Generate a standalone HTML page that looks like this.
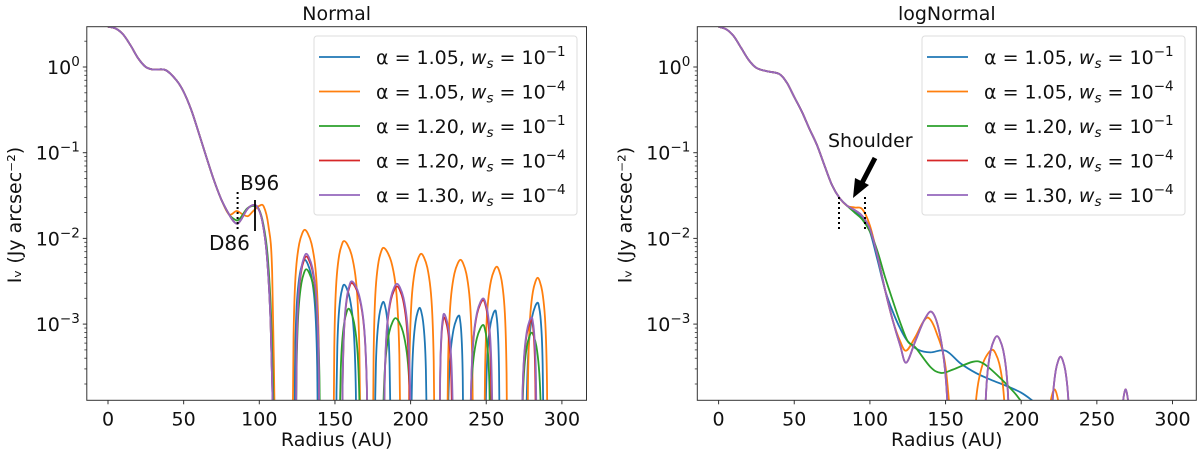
<!DOCTYPE html>
<html><head><meta charset="utf-8">
<style>
html,body{margin:0;padding:0;background:#fff;overflow:hidden;width:1200px;height:454px;}
svg{display:block;font-family:"DejaVu Sans","Liberation Sans",sans-serif;}
</style></head>
<body>
<svg id="fig" width="1200" height="454" viewBox="0 0 1200 454" xmlns="http://www.w3.org/2000/svg">
<defs>
<clipPath id="clipL"><rect x="86.8" y="26.7" width="499.7" height="373.6"/></clipPath>
<clipPath id="clipR"><rect x="697.3" y="26.7" width="499" height="373.6"/></clipPath>
</defs>
<g id="left"></g>
<g id="right"></g>
</svg>
<script>
const colors = ['#1f77b4','#ff7f0e','#2ca02c','#d62728','#9467bd'];
const seriesNames = ['a105-w1','a105-w4','a120-w1','a120-w4','a130-w4'];
const legendAlpha = ['1.05','1.05','1.20','1.20','1.30'];
const legendExp = ['−1','−4','−1','−4','−4'];
const xTicks = [0,50,100,150,200,250,300];
const yTickExp = [0,-1,-2,-3];

// ---- Normal panel data (radius AU, log10 intensity) ----
const sharedR = [0,5,10,15,20,25,30,38,45,50,55,60,65,70,75,80];
const sharedLog = [0.47,0.45,0.38,0.25,0.10,0.00,-0.03,-0.035,-0.15,-0.29,-0.5,-0.77,-1.05,-1.32,-1.55,-1.72];
const tailR_L = [
 [83,85.5,88,92,96,99,102,105,107.5,109.5],
 [85,89,92.5,96,100,103,106,108.5,110.5],
 [83,85.5,88,92,96.5,99.5,102.5,105.5,108,110],
 [83,85.5,88,92,96,99,102,105,107.5,109.5],
 [83,85.5,88,92,96,99,102,105,107.5,109.5]];
const tailLog_L = [
 [-1.80,-1.83,-1.78,-1.66,-1.61,-1.64,-1.8,-2.2,-3.0,-4.5],
 [-1.68,-1.72,-1.74,-1.68,-1.62,-1.63,-1.85,-2.4,-4.5],
 [-1.77,-1.79,-1.75,-1.65,-1.62,-1.65,-1.82,-2.2,-3.0,-4.5],
 [-1.80,-1.83,-1.78,-1.66,-1.61,-1.64,-1.8,-2.2,-3.0,-4.5],
 [-1.80,-1.83,-1.78,-1.66,-1.61,-1.64,-1.8,-2.2,-3.0,-4.5]];
const lobeStart_L = [
 [123,150.6,176,200,224,249,276],
 [122,149,175,198.6,224,248.5,277],
 [124,152.7,181,238.5,273],
 [124,154.5,182,219,239,273],
 [124,154.5,182,219,239,273]];
const lobePeakR_L = [
 [130,156,182,206,232,256,284],
 [130,156,182,207,233,257,284],
 [131,159,190,248,280],
 [131,161,191,222,248,280],
 [131,161,191,222,248,280]];
const lobeEnd_L = [
 [139,164.5,187,211,235,259,288],
 [140,167,193.5,216,241.5,264,290.7],
 [140.5,167,201,253,287],
 [140,172,200,228,254,283],
 [140,172,200.5,228.5,254.5,283.5]];
const lobePeakLog_L = [
 [-2.25,-2.54,-2.74,-2.81,-2.90,-2.84,-2.75],
 [-1.90,-2.03,-2.11,-2.18,-2.25,-2.33,-2.46],
 [-2.36,-2.82,-2.93,-3.01,-3.10],
 [-2.21,-2.52,-2.56,-2.92,-2.72,-2.95],
 [-2.18,-2.50,-2.53,-2.88,-2.70,-2.92]];

// ---- logNormal panel data ----
const sharedR_R = [0,5,10,15,20,25,32,40,45,50,55,60,65,70,75,80,85];
const sharedLog_R = [0.47,0.44,0.36,0.22,0.08,-0.01,-0.05,-0.08,-0.18,-0.35,-0.52,-0.72,-0.91,-1.15,-1.38,-1.53,-1.62];
const tailR_R = [
 [90,95,100,105,110,115,120,125,132,140,150,160,170,180,190,200,208,215],
 [90,95,100,105,110,115,120,124,130,135,139,144,150,155],
 [90,95,100,105,110,115,120,125,130,140,147,155,168,175,185,195,200,205],
 [90,95,100,105,110,115,120,124,130,136,141,146,150,153],
 [90,95,100,105,110,115,120,124,130,136,141,146,150,153]];
const tailLog_R = [
 [-1.68,-1.76,-1.92,-2.25,-2.6,-2.85,-3.05,-3.2,-3.3,-3.33,-3.31,-3.46,-3.57,-3.65,-3.72,-3.80,-3.9,-4.0],
 [-1.64,-1.66,-1.85,-2.2,-2.6,-2.95,-3.2,-3.31,-3.15,-2.98,-2.93,-3.1,-3.5,-4.5],
 [-1.70,-1.78,-1.92,-2.15,-2.45,-2.72,-2.98,-3.2,-3.27,-3.5,-3.57,-3.53,-3.44,-3.46,-3.61,-3.79,-3.9,-4.0],
 [-1.67,-1.74,-1.89,-2.2,-2.6,-2.95,-3.25,-3.45,-3.2,-2.95,-2.86,-3.1,-3.6,-4.5],
 [-1.67,-1.74,-1.89,-2.2,-2.6,-2.95,-3.25,-3.45,-3.2,-2.95,-2.86,-3.1,-3.6,-4.5]];
const lobeStart_R = [[],[167,216],[],[175,219,265],[175,219,265]];
const lobePeakR_R = [[],[181,222],[],[184,226,269],[184,226,269]];
const lobeEnd_R = [[],[191,228],[],[193,233,273],[193,233,273]];
const lobePeakLog_R = [[],[-3.30,-3.76],[],[-3.14,-3.38,-3.76],[-3.14,-3.38,-3.76]];

const NS='http://www.w3.org/2000/svg';
function mk(tag, attrs, parent){const e=document.createElementNS(NS,tag);for(const k in attrs)e.setAttribute(k,attrs[k]);if(parent)parent.appendChild(e);return e;}

function makeAxes(x0px, left, right){
  const top=26.7, bottom=400.3, pxAU=1.513, y0=67, pxDec=85.7;
  return {left,right,top,bottom,
    sx:r=>x0px+r*pxAU, sy:l=>y0-l*pxDec};
}
function crPath(pts){
  let d='M'+pts[0][0].toFixed(2)+','+pts[0][1].toFixed(2);
  for(let i=0;i<pts.length-1;i++){
    const p0=pts[i-1]||pts[i],p1=pts[i],p2=pts[i+1],p3=pts[i+2]||p2;
    const c1=[p1[0]+(p2[0]-p0[0])/6,p1[1]+(p2[1]-p0[1])/6];
    const c2=[p2[0]-(p3[0]-p1[0])/6,p2[1]-(p3[1]-p1[1])/6];
    d+='C'+c1[0].toFixed(2)+','+c1[1].toFixed(2)+' '+c2[0].toFixed(2)+','+c2[1].toFixed(2)+' '+p2[0].toFixed(2)+','+p2[1].toFixed(2);
  }
  return d;
}
// lobe rendering profile (fraction of half-width, drop in log10 from peak)
const lobeShapeT = [0, 0.03, 0.08, 0.18, 0.32, 0.55, 0.8, 1];
const lobeShapeD = [-3.0, -2.0, -1.25, -0.72, -0.4, -0.16, -0.04, 0];
function lobePts(s,pr,e,pl){
  const pts=[];
  for(let i=0;i<lobeShapeT.length;i++) pts.push([s+lobeShapeT[i]*(pr-s), pl+lobeShapeD[i]]);
  for(let i=lobeShapeT.length-2;i>=0;i--) pts.push([e-lobeShapeT[i]*(e-pr), pl+lobeShapeD[i]]);
  return pts;
}

function drawPanel(g, ax, title, clipId, sR, sL, tR, tL, lS, lP, lE, lV, legX){
  mk('rect',{x:ax.left,y:ax.top,width:ax.right-ax.left,height:ax.bottom-ax.top,fill:'#fff'},g);
  const plot=mk('g',{'clip-path':'url(#'+clipId+')'},g);
  for(let s=0;s<5;s++){
    const pts=sR.map((r,i)=>[ax.sx(r),ax.sy(sL[i])]).concat(tR[s].map((r,i)=>[ax.sx(r),ax.sy(tL[s][i])]));
    const p=mk('path',{d:crPath(pts),fill:'none',stroke:colors[s],'stroke-width':1.8,'stroke-linejoin':'round'},plot);
    
    
    for(let k=0;k<lS[s].length;k++){
      const lp=lobePts(lS[s][k],lP[s][k],lE[s][k],lV[s][k]).map(q=>[ax.sx(q[0]),ax.sy(q[1])]);
      const l=mk('path',{d:crPath(lp),fill:'none',stroke:colors[s],'stroke-width':1.8},plot);
      
      
    }
  }
  const fr=mk('rect',{x:ax.left,y:ax.top,width:ax.right-ax.left,height:ax.bottom-ax.top,fill:'none',stroke:'#333','stroke-width':1},g);
  
  
  xTicks.forEach(t=>{
    const x=ax.sx(t);
    mk('line',{x1:x,x2:x,y1:ax.bottom,y2:ax.bottom+4,stroke:'#333','stroke-width':1},g);
    const tx=mk('text',{x:x,y:ax.bottom+25,'text-anchor':'middle','font-size':19,fill:'#111'},g);
    tx.textContent=t;
    
    
  });
  yTickExp.forEach(e=>{
    const y=ax.sy(e);
    mk('line',{x1:ax.left-4,x2:ax.left,y1:y,y2:y,stroke:'#333','stroke-width':1},g);
    const tx=mk('text',{x:ax.left-7,y:y+7,'text-anchor':'end','font-size':19,fill:'#111'},g);
    
    
    tx.appendChild(document.createTextNode('10'));
    const sup=mk('tspan',{dy:-8,'font-size':13.5},tx); sup.textContent=e===0?'0':'−'+(-e);
  });
  for(let e=-4;e<=0;e++){for(let m=2;m<=9;m++){
    const l=e+Math.log10(m); const y=ax.sy(l);
    if(y>ax.top && y<ax.bottom) mk('line',{x1:ax.left-2.5,x2:ax.left,y1:y,y2:y,stroke:'#333','stroke-width':0.8},g);
  }}
  const ti=mk('text',{x:(ax.left+ax.right)/2,y:20,'text-anchor':'middle','font-size':19,fill:'#111'},g);
  ti.textContent=title;
  
  
  const xl=mk('text',{x:(ax.left+ax.right)/2,y:446,'text-anchor':'middle','font-size':19,fill:'#111'},g);
  xl.textContent='Radius (AU)';
  
  
  const cx=ax.left-66, cy=215;
  const yl=mk('text',{x:cx,y:cy,'text-anchor':'middle','font-size':19,fill:'#111',transform:'rotate(-90 '+cx+' '+cy+')'},g);
  yl.textContent='Iᵥ (Jy arcsec⁻²)';
  
  
  const lg=mk('g',{},g);
  
  
  mk('rect',{x:legX,y:36,width:263,height:179,rx:3,fill:'#fff','fill-opacity':0.85,stroke:'#ddd','stroke-width':1},lg);
  for(let s=0;s<5;s++){
    const y=57+s*34.5;
    const row=mk('g',{},lg);
    
    
    mk('line',{x1:legX+5,x2:legX+46,y1:y,y2:y,stroke:colors[s],'stroke-width':1.8},row);
    const t=mk('text',{x:legX+62,y:y+7,'font-size':19,fill:'#111'},row);
    t.appendChild(document.createTextNode('α = '+legendAlpha[s]+', '));
    const w=mk('tspan',{'font-style':'italic'},t); w.textContent='w';
    const sb=mk('tspan',{dy:4,'font-size':13.5,'font-style':'italic'},t); sb.textContent='s';
    const eq=mk('tspan',{dy:-4},t); eq.textContent=' = 10';
    const sp=mk('tspan',{dy:-8,'font-size':13.5},t); sp.textContent=legendExp[s];
  }
}

const axL=makeAxes(108,86.8,586.5);
const axR=makeAxes(718.6,697.3,1196.3);
drawPanel(document.getElementById('left'),axL,'Normal','clipL',sharedR,sharedLog,tailR_L,tailLog_L,lobeStart_L,lobePeakR_L,lobeEnd_L,lobePeakLog_L,314);
drawPanel(document.getElementById('right'),axR,'logNormal','clipR',sharedR_R,sharedLog_R,tailR_R,tailLog_R,lobeStart_R,lobePeakR_R,lobeEnd_R,lobePeakLog_R,922);

const gl=document.getElementById('left');
const an=mk('g',{},gl);


mk('line',{x1:237.6,x2:237.6,y1:192,y2:230,stroke:'#000','stroke-width':2,'stroke-dasharray':'2,3'},an);
mk('line',{x1:255,x2:255,y1:200,y2:231,stroke:'#000','stroke-width':1.8},an);
const b=mk('text',{x:240,y:190,'font-size':20,fill:'#111'},an); b.textContent='B96';
const dd=mk('text',{x:209,y:250,'font-size':20,fill:'#111'},an); dd.textContent='D86';

const gr=document.getElementById('right');
const an2=mk('g',{},gr);


mk('line',{x1:839,x2:839,y1:197,y2:230,stroke:'#000','stroke-width':2,'stroke-dasharray':'2,3'},an2);
mk('line',{x1:865,x2:865,y1:197,y2:230,stroke:'#000','stroke-width':2,'stroke-dasharray':'2,3'},an2);
const sh=mk('text',{x:828,y:147,'font-size':19,fill:'#111'},an2); sh.textContent='Shoulder';
mk('line',{x1:875,x2:862,y1:158,y2:183,stroke:'#000','stroke-width':5},an2);
mk('polygon',{points:'853,198 855,178 869,185',fill:'#000'},an2);
</script>
</body></html>
